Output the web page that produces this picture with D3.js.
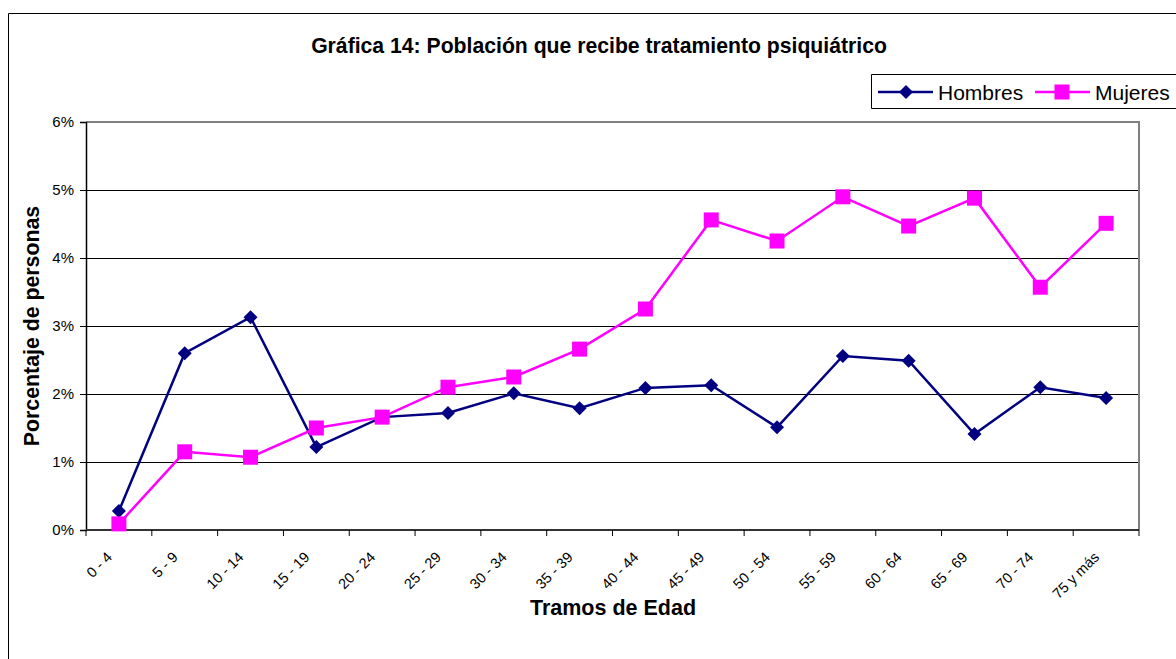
<!DOCTYPE html>
<html>
<head>
<meta charset="utf-8">
<script src="https://cdn.jsdelivr.net/npm/d3@7"></script>
<style>
  html, body { margin: 0; padding: 0; background: #fff; }
  svg { display: block; font-family: "Liberation Sans", Arial, sans-serif; }
</style>
</head>
<body>
<svg id="chart" width="1176" height="659"></svg>
<script>
const categories = ["0 - 4","5 - 9","10 - 14","15 - 19","20 - 24","25 - 29","30 - 34","35 - 39","40 - 44","45 - 49","50 - 54","55 - 59","60 - 64","65 - 69","70 - 74","75 y más"];
const hombres = [0.28, 2.60, 3.13, 1.22, 1.66, 1.72, 2.01, 1.79, 2.09, 2.13, 1.51, 2.56, 2.49, 1.41, 2.10, 1.94];
const mujeres = [0.09, 1.15, 1.07, 1.50, 1.66, 2.10, 2.25, 2.66, 3.25, 4.56, 4.25, 4.90, 4.47, 4.88, 3.57, 4.51];
const yTicks = [0, 1, 2, 3, 4, 5, 6];
const seriesNames = ["Hombres", "Mujeres"];

(function () {
const svg = d3.select("#chart");
const W = 1176, H = 659;
svg.append("rect").attr("width", W).attr("height", H).attr("fill", "#fff");

// outer chart border (right/bottom cropped)
svg.append("path").attr("d", "M8.5,680 V13.5 H1200").attr("fill", "none").attr("stroke", "#000").attr("stroke-width", 1);

const pL = 86, pR = 1139, pT = 122, pB = 530;
const x = d3.scaleBand().domain(categories).range([pL, pR]).padding(0);
const y = d3.scaleLinear().domain([0, 6]).range([pB, pT]);
const cx = d => x(d) + x.bandwidth() / 2;

// gridlines
svg.append("g").selectAll("line").data(yTicks.filter(t => t > 0 && t < 6)).join("line")
  .attr("x1", pL).attr("x2", pR)
  .attr("y1", d => Math.round(y(d)) + 0.5).attr("y2", d => Math.round(y(d)) + 0.5)
  .attr("stroke", "#000").attr("stroke-width", 1);

// plot area border top/right gray
svg.append("path")
  .attr("d", `M${pL},${pT} H${pR} V${pB}`)
  .attr("fill", "none").attr("stroke", "#808080").attr("stroke-width", 2);

// Y axis
const yAxis = d3.axisLeft(y).tickValues(yTicks).tickSize(6).tickPadding(6).tickFormat(d => d + "%");
const gy = svg.append("g").attr("transform", `translate(${pL},0)`).call(yAxis);
gy.attr("font-size", 15).attr("font-family", "Liberation Sans, Arial, sans-serif");
gy.select(".domain").attr("stroke", "#000").attr("stroke-width", 1.5);
gy.selectAll(".tick line").attr("stroke", "#000");
gy.selectAll(".tick text").attr("fill", "#000");

// X axis: ticks at category boundaries
const boundaries = categories.map(c => x(c)).concat([pR]);
const gx = svg.append("g");
gx.append("line").attr("x1", pL).attr("x2", pR).attr("y1", pB).attr("y2", pB)
  .attr("stroke", "#333").attr("stroke-width", 2);
gx.selectAll("line.tk").data(boundaries).join("line").attr("class", "tk")
  .attr("x1", d => d).attr("x2", d => d).attr("y1", pB).attr("y2", pB + 6)
  .attr("stroke", "#000").attr("stroke-width", 1);
gx.selectAll("text").data(categories).join("text")
  .attr("transform", d => `translate(${cx(d) - 6},${pB + 28}) rotate(-45)`)
  .attr("text-anchor", "end")
  .attr("font-size", 14.5)
  .attr("fill", "#000")
  .text(d => d);

// lines
const line = d3.line().x((d, i) => cx(categories[i])).y(d => y(d));
svg.append("path").datum(hombres).attr("d", line).attr("fill", "none").attr("stroke", "#000080").attr("stroke-width", 2.5);
svg.append("path").datum(mujeres).attr("d", line).attr("fill", "none").attr("stroke", "#FF00FF").attr("stroke-width", 2.5);

// markers
const dsize = 7;
svg.append("g").selectAll("path").data(hombres).join("path")
  .attr("d", (d, i) => { const px = cx(categories[i]), py = y(d); return `M${px},${py - dsize} L${px + dsize},${py} L${px},${py + dsize} L${px - dsize},${py} Z`; })
  .attr("fill", "#000080");
const ssize = 15;
svg.append("g").selectAll("rect").data(mujeres).join("rect")
  .attr("x", (d, i) => cx(categories[i]) - ssize / 2).attr("y", d => y(d) - ssize / 2)
  .attr("width", ssize).attr("height", ssize).attr("fill", "#FF00FF");

// Title
svg.append("text").attr("x", 599).attr("y", 53).attr("text-anchor", "middle")
  .attr("font-size", 21.2).attr("font-weight", "bold").attr("fill", "#000")
  .text("Gráfica 14: Población que recibe tratamiento psiquiátrico");

// Axis titles
svg.append("text").attr("transform", `translate(39,326) rotate(-90)`).attr("text-anchor", "middle")
  .attr("font-size", 21.3).attr("font-weight", "bold").attr("fill", "#000")
  .text("Porcentaje de personas");
svg.append("text").attr("x", 613).attr("y", 615).attr("text-anchor", "middle")
  .attr("font-size", 21.5).attr("font-weight", "bold").attr("fill", "#000")
  .text("Tramos de Edad");

// Legend
svg.append("path").attr("d", "M1200,74.5 H871.5 V108.5 H1200").attr("fill", "none").attr("stroke", "#000").attr("stroke-width", 1);
const ly = 92;
const lg = svg.append("g");
lg.append("line").attr("x1", 878).attr("x2", 933).attr("y1", ly).attr("y2", ly).attr("stroke", "#000080").attr("stroke-width", 2.5);
lg.append("path").attr("d", `M906,${ly - dsize} L${906 + dsize},${ly} L906,${ly + dsize} L${906 - dsize},${ly} Z`).attr("fill", "#000080");
lg.append("text").attr("x", 938).attr("y", ly + 7.5).attr("font-size", 21).attr("fill", "#000").text(seriesNames[0]);
lg.append("line").attr("x1", 1035).attr("x2", 1090).attr("y1", ly).attr("y2", ly).attr("stroke", "#FF00FF").attr("stroke-width", 2.5);
lg.append("rect").attr("x", 1062 - ssize / 2).attr("y", ly - ssize / 2).attr("width", ssize).attr("height", ssize).attr("fill", "#FF00FF");
lg.append("text").attr("x", 1095).attr("y", ly + 7.5).attr("font-size", 21).attr("fill", "#000").text(seriesNames[1]);
})();
</script>
</body>
</html>
